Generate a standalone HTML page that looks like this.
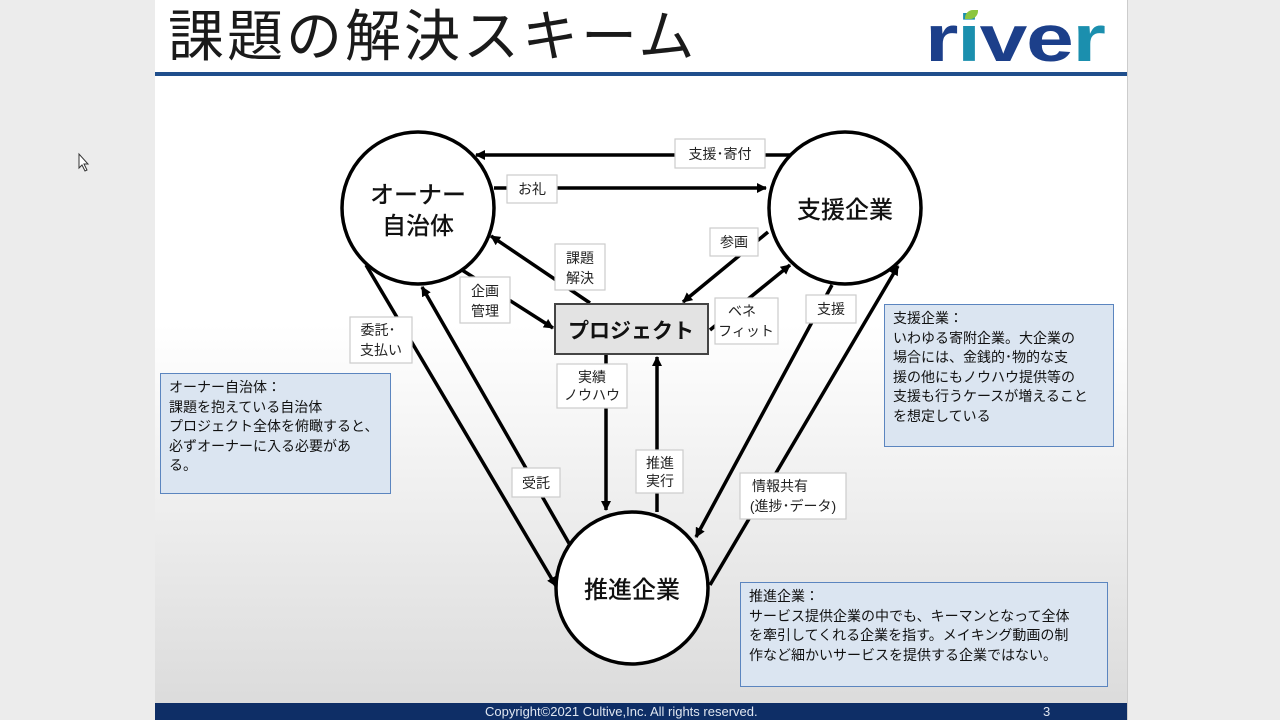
<!DOCTYPE html>
<html><head><meta charset="utf-8"><style>
body{margin:0;width:1280px;height:720px;overflow:hidden;background:#ececec;font-family:"Liberation Sans","Noto Sans CJK JP",sans-serif;position:relative}
.slide{position:absolute;left:155px;top:0;width:972px;height:720px;background:linear-gradient(#fff 0,#fff 45%,#dadada 100%);border-right:1px solid #ccc}
.title{position:absolute;left:168px;top:4px;font-size:56px;letter-spacing:3px;color:#1a1a1a;line-height:66px}
.line{position:absolute;left:155px;top:72px;width:972px;height:4px;background:#1f4e8c}
.foot{position:absolute;left:155px;top:703px;width:972px;height:17px;background:#0e2e66;color:#dfe6f0;font-size:13px;line-height:17px}
.box{position:absolute;background:#dbe5f1;border:1.5px solid #5b85bf;font-size:14px;line-height:19.5px;color:#111;padding:4px 8px;box-sizing:border-box}
.logo{position:absolute;left:925px;top:0px;font-size:66px;font-weight:bold;color:#1b8fae;letter-spacing:-1px;font-family:"Liberation Sans",sans-serif;transform:scaleX(1.3);transform-origin:0 0}
</style></head><body>
<div class="slide"></div>
<div class="title">課題の解決スキーム</div>
<div class="logo"><span style="color:#1c3f8a">r</span>i<span style="color:#1c3f8a">v</span><span style="color:#1c3f8a">e</span>r</div>
<div style="position:absolute;left:965px;top:10px;width:13px;height:9px;background:#8cc63e;border-radius:8px 0 8px 0"></div>
<div class="line"></div>
<svg width="1280" height="720" style="position:absolute;left:0;top:0">
<defs><marker id="a" markerWidth="10" markerHeight="10" refX="9" refY="5" orient="auto" markerUnits="userSpaceOnUse"><path d="M0,0 L10,5 L0,10 Z" fill="#000"/></marker></defs>
<g stroke="#000" stroke-width="3.5" fill="#fff">
<circle cx="418" cy="208" r="76"/><circle cx="845" cy="208" r="76"/><circle cx="632" cy="588" r="76"/>
</g>
<g stroke="#000" stroke-width="3.5" fill="none" marker-end="url(#a)">
<line x1="790" y1="155" x2="476" y2="155"/>
<line x1="494" y1="188" x2="766" y2="188"/>
<line x1="590" y1="303" x2="491" y2="236"/>
<line x1="462" y1="270" x2="553" y2="328"/>
<line x1="768" y1="232" x2="683" y2="302"/>
<line x1="710" y1="330" x2="790" y2="265"/>
<line x1="606" y1="355" x2="606" y2="510"/>
<line x1="657" y1="512" x2="657" y2="357"/>
<line x1="366" y1="265" x2="556" y2="586"/>
<line x1="570" y1="545" x2="422" y2="287"/>
<line x1="832" y1="285" x2="696" y2="537"/>
<line x1="710" y1="585" x2="898" y2="266"/>
</g>
<rect x="555" y="304" width="153" height="50" fill="#e3e3e3" stroke="#444" stroke-width="2"/>
<g fill="#fff" stroke="#ccc" stroke-width="1.2">
<rect x="675" y="139" width="90" height="29"/><rect x="507" y="175" width="50" height="28"/>
<rect x="555" y="244" width="50" height="46"/><rect x="460" y="277" width="50" height="46"/>
<rect x="710" y="228" width="48" height="28"/><rect x="715" y="298" width="63" height="46"/>
<rect x="557" y="364" width="70" height="44"/><rect x="636" y="450" width="47" height="43"/>
<rect x="350" y="317" width="62" height="46"/><rect x="512" y="468" width="48" height="29"/>
<rect x="806" y="295" width="50" height="28"/><rect x="740" y="473" width="106" height="46"/>
</g>
<g font-family="Liberation Sans,Noto Sans CJK JP,sans-serif" font-size="14" fill="#222" text-anchor="middle">
<text x="720" y="159">支援･寄付</text><text x="532" y="194">お礼</text>
<text x="580" y="263">課題</text><text x="580" y="283">解決</text>
<text x="485" y="296">企画</text><text x="485" y="316">管理</text>
<text x="734" y="247">参画</text>
<text x="742" y="316">ベネ</text><text x="746" y="336">フィット</text>
<text x="592" y="382">実績</text><text x="592" y="400">ノウハウ</text>
<text x="660" y="468">推進</text><text x="660" y="486">実行</text>
<text x="378" y="335">委託･</text><text x="381" y="355">支払い</text>
<text x="536" y="488">受託</text><text x="831" y="314">支援</text>
<text x="780" y="491">情報共有</text><text x="793" y="511">(進捗･データ)</text>
</g>
<g font-family="Liberation Sans,Noto Sans CJK JP,sans-serif" font-size="24" fill="#111" text-anchor="middle" font-weight="500">
<text x="418" y="203">オーナー</text><text x="418" y="234">自治体</text>
<text x="845" y="218">支援企業</text><text x="632" y="598">推進企業</text>
<text x="631" y="338" font-size="21" font-weight="bold">プロジェクト</text>
</g>
<path d="M79,154 L79,168 L82,165 L85,171 L87,170 L84,164 L88,164 Z" fill="#fff" stroke="#333"/>
</svg>
<div class="box" style="left:160px;top:373px;width:231px;height:121px">オーナー自治体：<br>課題を抱えている自治体<br>プロジェクト全体を俯瞰すると、<br>必ずオーナーに入る必要があ<br>る。</div>
<div class="box" style="left:884px;top:304px;width:230px;height:143px">支援企業：<br>いわゆる寄附企業。大企業の<br>場合には、金銭的･物的な支<br>援の他にもノウハウ提供等の<br>支援も行うケースが増えること<br>を想定している</div>
<div class="box" style="left:740px;top:582px;width:368px;height:105px">推進企業：<br>サービス提供企業の中でも、キーマンとなって全体<br>を牽引してくれる企業を指す。メイキング動画の制<br>作など細かいサービスを提供する企業ではない。</div>
<div class="foot"><span style="position:absolute;left:330px">Copyright©2021 Cultive,Inc. All rights reserved.</span><span style="position:absolute;left:888px">3</span></div>
</body></html>
